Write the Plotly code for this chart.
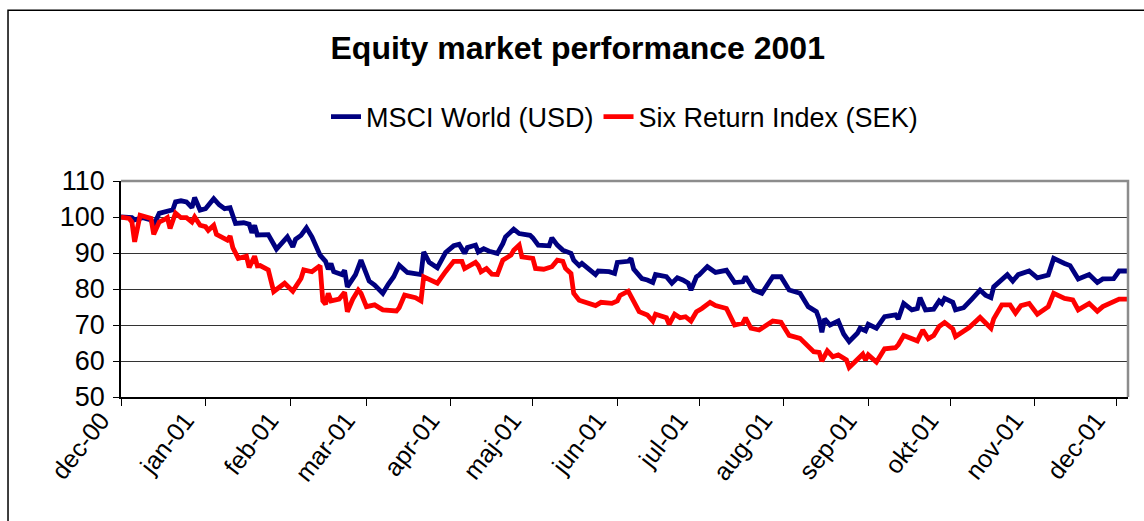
import pandas as pd
import plotly.graph_objects as go

start = pd.Timestamp("2000-12-01")

month_ticks = ["2000-12-01", "2001-01-01", "2001-02-01", "2001-03-01", "2001-04-01",
               "2001-05-01", "2001-06-01", "2001-07-01", "2001-08-01", "2001-09-01",
               "2001-10-01", "2001-11-01", "2001-12-01"]
month_labels = ["dec-00", "jan-01", "feb-01", "mar-01", "apr-01", "maj-01", "jun-01",
                "jul-01", "aug-01", "sep-01", "okt-01", "nov-01", "dec-01"]

msci_days = [0, 4, 5, 8, 11, 12, 14, 17, 19, 20, 22, 24, 26, 27, 29, 31, 34, 36, 38, 40, 41, 42,
             45, 47, 48, 49, 50, 51, 54, 57, 61, 63, 64, 66, 68, 70, 73, 75, 76, 77, 78, 81, 82,
             83, 86, 88, 91, 93, 96, 98, 100, 102, 105, 110, 111, 113, 116, 119, 122, 124, 126,
             127, 130, 131, 133, 135, 138, 140, 141, 144, 146, 150, 151, 153, 157, 158, 160, 162,
             165, 166, 168, 169, 171, 174, 175, 179, 181, 182, 186, 187, 188, 191, 193, 195, 196,
             200, 202, 204, 206, 208, 209, 211, 212, 215, 218, 222, 225, 228, 229, 232, 235, 239,
             242, 245, 249, 252, 255, 256, 257, 258, 260, 263, 265, 267, 270, 271, 273, 274, 277,
             280, 284, 285, 287, 290, 292, 293, 295, 298, 300, 301, 302, 305, 306, 309, 312, 315,
             317, 319, 320, 323, 325, 327, 329, 333, 336, 340, 342, 346, 348, 351, 355, 358, 360,
             364, 366, 369]
msci_vals = [100, 99.8, 99.2, 99.8, 99.2, 97.7, 101, 101.7, 102, 104.2, 104.5, 104.2, 102.6,
             105.4, 101.9, 102.3, 105.1, 103.4, 102.3, 102.6, 100.8, 98.2, 98.4, 98, 95.6, 97.7,
             95, 95.1, 95.1, 91.1, 94.5, 91.7, 93.8, 94.9, 97, 94.5, 89.4, 87.7, 85.5, 87.1, 84.8,
             84, 85.2, 80.6, 84, 88, 82.2, 81.1, 78.8, 81.3, 83.4, 86.6, 84.6, 84, 90.3, 87.4,
             85.9, 90.1, 92, 92.4, 89.9, 91.5, 92.2, 90.3, 91.2, 90.5, 89.9, 92.6, 94.5, 96.6,
             95.4, 94.9, 94.2, 92.2, 92, 94.2, 92.2, 90.8, 89.9, 88, 86.5, 87.1, 85.9, 84, 85,
             84.8, 84.3, 87.4, 87.7, 88.5, 85.5, 82.9, 82.5, 81.8, 84, 83.4, 81.6, 83.1, 82.5,
             81.6, 79.7, 83.4, 83.9, 86.2, 84.6, 85.2, 81.8, 82, 83.4, 79.7, 78.8, 83.4, 83.4,
             79.7, 78.8, 75.1, 73.7, 71.7, 68, 71.7, 70, 71.1, 67.5, 65.4, 67.7, 69.1, 68.4, 70.2,
             69.1, 72.3, 72.8, 71.7, 76, 74.2, 74.6, 77.6, 74.2, 74.4, 76.7, 76, 77.4, 76.3, 74.2,
             74.8, 77.2, 79.7, 78.3, 77.6, 80.6, 82.9, 84, 82.2, 84, 85, 83.1, 83.9, 88.5, 87.1,
             86.5, 82.8, 84, 81.8, 82.8, 82.9, 85, 85]

six_days = [0, 3, 4, 5, 7, 10, 11, 12, 14, 16, 17, 18, 19, 20, 22, 24, 26, 27, 29, 31, 32, 34,
            35, 38, 39, 40, 41, 43, 45, 46, 47, 49, 50, 51, 54, 56, 60, 63, 66, 67, 70, 73, 74,
            75, 76, 77, 80, 82, 83, 85, 87, 88, 90, 93, 96, 101, 102, 104, 108, 110, 111, 116,
            119, 122, 125, 126, 130, 131, 132, 134, 136, 138, 140, 143, 144, 146, 147, 149, 151,
            152, 155, 158, 160, 162, 163, 165, 166, 168, 170, 173, 174, 176, 180, 182, 183, 186,
            187, 190, 193, 195, 196, 200, 201, 203, 205, 207, 209, 211, 213, 216, 218, 222, 225,
            228, 229, 231, 234, 239, 242, 245, 249, 251, 254, 256, 257, 259, 261, 263, 266, 267,
            270, 272, 273, 274, 277, 280, 284, 285, 287, 290, 292, 294, 296, 298, 300, 302, 305,
            306, 308, 311, 315, 317, 319, 320, 323, 326, 328, 330, 333, 336, 340, 342, 346, 349,
            351, 355, 358, 360, 363, 366, 369]
six_vals = [100, 99.6, 98.6, 93.1, 100.5, 100, 99.6, 95.2, 98.6, 99.3, 99.8, 96.8, 99.3, 101.1,
            99.8, 99.8, 98.6, 100, 97.7, 97.3, 96.3, 97.7, 95.2, 94, 93.6, 94.7, 91.5, 88.5, 89,
            89.1, 86, 89.1, 86.4, 86.5, 85.3, 79.3, 81.6, 79.4, 82.9, 85.3, 84.8, 86.5, 76.7,
            75.8, 78.8, 76.7, 77.2, 79.1, 73.7, 77.2, 79.7, 78.8, 75.1, 75.6, 74.2, 73.9, 74.8,
            78.3, 77.6, 76.7, 83.4, 81.6, 84.8, 87.7, 87.7, 85.7, 87.4, 86.5, 84.8, 85.7, 84.1,
            84, 88, 89.4, 90.8, 92.2, 88.9, 88.7, 88.5, 85.7, 85.5, 86.2, 88, 87.7, 85.7, 84.3,
            78.8, 76.9, 76.3, 75.7, 75.4, 76.3, 76, 76.7, 78.2, 79.4, 77.9, 73.7, 72.8, 71.1, 73,
            72, 70.2, 73, 72, 72.3, 71.1, 73.7, 74.6, 76.3, 75.4, 74.6, 70, 70.5, 72, 69.1, 68.6,
            71.1, 70.8, 67.1, 66.3, 64.9, 62.6, 62.4, 60, 62.8, 61.2, 61.7, 60.3, 58.2, 60.3,
            61.9, 60.3, 61.7, 59.7, 63.4, 63.7, 64.5, 67.1, 66.2, 65.6, 68.6, 66.2, 67.1, 69.6,
            70.7, 68.9, 66.8, 67.7, 69.3, 72.1, 70.5, 69.1, 71.7, 75.6, 75.6, 73.3, 75.4, 76, 73,
            75.1, 78.8, 77.4, 77, 74.2, 76, 73.8, 75.1, 76, 77.2, 77.2]

msci_dates = start + pd.to_timedelta(msci_days, unit="D")
six_dates = start + pd.to_timedelta(six_days, unit="D")

FONT = "Liberation Sans, Arial, sans-serif"

fig = go.Figure()
fig.add_trace(go.Scatter(x=msci_dates, y=msci_vals, mode="lines", name="MSCI World (USD)",
                         line=dict(color="#000080", width=4.8)))
fig.add_trace(go.Scatter(x=six_dates, y=six_vals, mode="lines", name="Six Return Index (SEK)",
                         line=dict(color="#FF0000", width=4.8)))

fig.update_layout(
    width=1144, height=521,
    margin=dict(l=121, r=16, t=181, b=124),
    paper_bgcolor="white", plot_bgcolor="white",
    font=dict(family=FONT, color="black"),
    title=dict(text="<b>Equity market performance 2001</b>", x=0.505, xanchor="center",
               y=0.908, yanchor="middle", font=dict(size=32, family=FONT, color="black")),
    showlegend=True,
    legend=dict(orientation="h", x=0.5, xanchor="center", y=1.296, yanchor="middle",
                font=dict(size=27, family=FONT), bgcolor="rgba(0,0,0,0)"),
    xaxis=dict(type="date", range=["2000-12-01", "2001-12-05 06:00"],
               tickvals=month_ticks, ticktext=month_labels, tickangle=-52,
               tickfont=dict(size=25, family=FONT), ticks="outside", ticklen=7,
               ticklabelshift=-20, ticklabelstandoff=-10,
               tickcolor="black", showgrid=False, showline=True, linecolor="black",
               linewidth=1.5, zeroline=False, automargin=False),
    yaxis=dict(range=[50, 110], tickvals=[50, 60, 70, 80, 90, 100, 110],
               tickfont=dict(size=27, family=FONT), ticks="outside", ticklen=6,
               ticklabelstandoff=3,
               tickcolor="black", showgrid=True, gridcolor="#333333", gridwidth=1,
               showline=True, linecolor="black", linewidth=1.5, zeroline=False,
               automargin=False),
    shapes=[
        dict(type="path", xref="paper", yref="paper", path="M 0,1 L 1,1 L 1,0",
             line=dict(color="#8c8c8c", width=2.5), layer="above"),
        dict(type="rect", xref="paper", yref="paper", x0=-0.1122, x1=1.2, y0=-1.0, y1=1.79,
             line=dict(color="black", width=1.5), layer="below"),
    ],
)

fig.write_html("out.html", config={"displayModeBar": False},
               post_script="document.body.style.margin='0';")
